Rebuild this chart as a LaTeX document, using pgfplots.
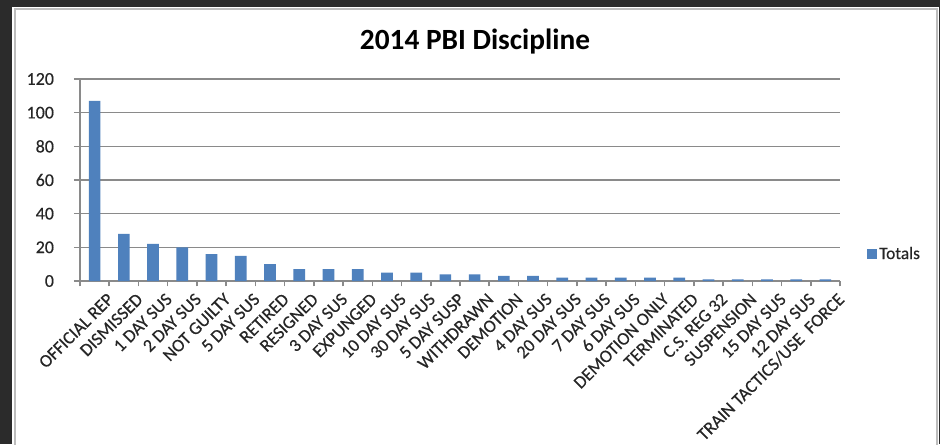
\documentclass[border=0pt]{standalone}
\usepackage{pgfplots}
\pgfplotsset{compat=1.18}
\usepackage{fontspec}
\setmainfont{Carlito}
\newfontfamily\lblfont{Carlito}[FakeBold=0.35]
\definecolor{barblue}{HTML}{4F81BD}
\definecolor{gridgray}{HTML}{8A8A8A}
\definecolor{bgdark}{HTML}{2B2B2B}
\definecolor{framegray}{HTML}{BDBDBD}
\definecolor{lbl}{HTML}{262626}
\pgfplotstableread{
x v
0 107
1 28
2 22
3 20
4 16
5 15
6 10
7 7
8 7
9 7
10 5
11 5
12 4
13 4
14 3
15 3
16 2
17 2
18 2
19 2
20 2
21 1
22 1
23 1
24 1
25 1
}\pbidata
\begin{document}
\begin{tikzpicture}
\path[use as bounding box, fill=bgdark] (0,0) rectangle (705pt,333pt);
\fill[white] (9pt,-5pt) rectangle (703.9pt,327.75pt);
\draw[framegray, line width=1.5pt] (10.9pt,-5pt) -- (10.9pt,326.25pt) -- (702.75pt,326.25pt) -- (702.75pt,-5pt);
\begin{axis}[
  at={(60pt,122.25pt)}, anchor=south west,
  scale only axis, width=570pt, height=151.5pt,
  xmin=-0.5, xmax=25.5, ymin=0, ymax=120,
  ytick={0,20,...,120},
  ymajorgrids, grid style={gridgray, line width=1.1pt},
  axis x line=bottom, axis y line=left,
  axis line style={gridgray, line width=1.1pt, -},
  tick style={gridgray, line width=1.1pt},
  tick align=outside,
  major tick length=4.5pt,
  xtick={0,...,25},
  x tick style={draw=none},
  xticklabels={OFFICIAL REP,DISMISSED,1 DAY SUS,2 DAY SUS,NOT GUILTY,5 DAY SUS,RETIRED,RESIGNED,3 DAY SUS,EXPUNGED,10 DAY SUS,30 DAY SUS,5 DAY SUSP,WITHDRAWN,DEMOTION,4 DAY SUS,20 DAY SUS,7 DAY SUS,6 DAY SUS,DEMOTION ONLY,TERMINATED,C.S. REG 32,SUSPENSION,15 DAY SUS,12 DAY SUS,TRAIN TACTICS/USE\ \ FORCE},
  xticklabel style={rotate=45, anchor=east, inner sep=0pt, xshift=3.6pt, yshift=-13.4pt, font=\lblfont\fontsize{13.5}{15}\selectfont, text=lbl},
  yticklabel style={font=\lblfont\fontsize{13.5}{15}\selectfont, text=lbl, xshift=-11.5pt},
  /pgf/number format/assume math mode=true,
  extra x ticks={-0.5,0.5,...,25.5},
  extra x tick labels={},
  extra x tick style={grid=none, x tick style={draw=gridgray}, major tick length=4pt},
  title={2014 PBI Discipline},
  title style={at={(0.5197,1.1436)}, anchor=base, yshift=-6pt, font=\fontsize{22}{26}\selectfont\bfseries},
  legend style={at={(1.0355,0.1337)}, anchor=west, draw=none, fill=none, inner sep=0pt, font=\lblfont\fontsize{13}{15}\selectfont, text=lbl, nodes={inner sep=1.5pt}},
  legend image code/.code={\fill[barblue] (0pt,-3.75pt) rectangle (7.5pt,3.75pt);},
]
\addplot[ybar, bar width=0.4, fill=barblue, draw=none] table[x=x, y=v] {\pbidata};
\addlegendentry{Totals}
\end{axis}
\end{tikzpicture}
\end{document}
